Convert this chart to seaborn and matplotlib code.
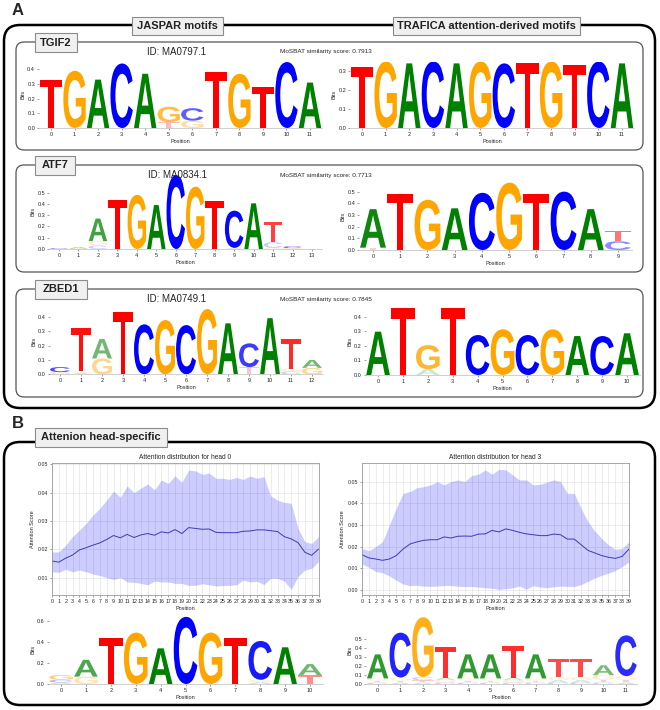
import numpy as np
import pandas as pd
import matplotlib
matplotlib.use("Agg")
import matplotlib.pyplot as plt
import seaborn as sns
from matplotlib.textpath import TextPath
from matplotlib.patches import PathPatch, FancyBboxPatch
from matplotlib.transforms import Affine2D
from matplotlib.font_manager import FontProperties

# ---- motif logos: one dict per position, letter -> bits ----
tgif2_jaspar = [{"T": .33}, {"G": .39}, {"A": .33}, {"C": .44}, {"A": .37},
                {"T": .04, "G": .105}, {"G": .05, "C": .085}, {"T": .38},
                {"G": .37}, {"T": .28}, {"C": .45}, {"A": .31}]
tgif2_trafica = [{"T": .32}, {"G": .35}, {"A": .34}, {"C": .35}, {"A": .34},
                 {"G": .35}, {"C": .34}, {"T": .34}, {"G": .35}, {"T": .33},
                 {"C": .35}, {"A": .34}]
atf7_jaspar = [{"C": .004}, {"G": .006, "A": .008}, {"C": .03, "G": .04, "A": .2},
               {"T": .435}, {"G": .48}, {"A": .39}, {"C": .655}, {"G": .553},
               {"T": .43}, {"A": .01, "C": .33}, {"A": .405},
               {"G": .01, "C": .05, "T": .18}, {"G": .008, "C": .015}, {}]
atf7_trafica = [{"T": .02, "A": .33}, {"T": .48}, {"G": .43}, {"A": .357},
                {"C": .49}, {"G": .577}, {"T": .48}, {"C": .5}, {"A": .35},
                {"C": .075, "T": .09}]
zbed1_jaspar = [{"G": .015, "C": .035}, {"A": .01, "G": .01, "T": .30},
                {"G": .11, "A": .135}, {"T": .43}, {"C": .347}, {"G": .377},
                {"C": .342}, {"G": .453}, {"A": .354}, {"T": .05, "C": .165},
                {"A": .39}, {"C": .02, "G": .02, "T": .205}, {"G": .045, "A": .055}]
zbed1_trafica = [{"A": .297}, {"T": .457}, {"A": .04, "G": .165}, {"T": .457},
                 {"C": .274}, {"G": .313}, {"C": .274}, {"G": .313}, {"A": .267},
                 {"C": .267}, {"A": .286}]
head0_logo = [{"A": .015, "C": .025, "G": .045}, {"G": .07, "A": .16}, {"T": .435},
              {"G": .49}, {"A": .34}, {"C": .64}, {"G": .49}, {"T": .435},
              {"A": .02, "G": .02, "C": .37}, {"A": .35}, {"T": .085, "A": .105}]
head3_logo = [{"C": .02, "T": .02, "G": .025, "A": .265},
              {"A": .02, "T": .02, "G": .035, "C": .495},
              {"A": .02, "T": .025, "C": .035, "G": .66},
              {"C": .02, "G": .025, "A": .03, "T": .335},
              {"C": .02, "T": .02, "G": .025, "A": .265},
              {"C": .02, "T": .02, "G": .025, "A": .265},
              {"C": .02, "G": .025, "A": .03, "T": .345},
              {"C": .02, "T": .02, "G": .025, "A": .265},
              {"C": .02, "A": .025, "G": .035, "T": .195},
              {"C": .02, "A": .025, "G": .035, "T": .195},
              {"C": .02, "T": .03, "G": .05, "A": .11},
              {"A": .02, "T": .03, "G": .04, "C": .45}]

tf_names = ["TGIF2", "ATF7", "ZBED1"]
jaspar_ids = ["ID: MA0797.1", "ID: MA0834.1", "ID: MA0749.1"]
mosbat_scores = [0.7913, 0.7713, 0.7845]

# ---- attention distributions (mean and band) over 40 positions ----
positions = np.arange(40)
head0_mean = [0.0159, 0.0155, 0.0169, 0.0180, 0.0198, 0.0206, 0.0215, 0.0223, 0.0235, 0.0249,
              0.0241, 0.0253, 0.0242, 0.0251, 0.0256, 0.0250, 0.0262, 0.0258, 0.0270, 0.0256,
              0.0277, 0.0274, 0.0271, 0.0272, 0.0260, 0.0259, 0.0259, 0.0259, 0.0264, 0.0265,
              0.0269, 0.0269, 0.0266, 0.0263, 0.0245, 0.0237, 0.0224, 0.0190, 0.0179, 0.0201]
head0_upper = [0.0191, 0.0191, 0.0215, 0.0245, 0.0268, 0.0292, 0.0321, 0.0345, 0.0374, 0.0406,
               0.0384, 0.0424, 0.0400, 0.0416, 0.0431, 0.0410, 0.0445, 0.0433, 0.0460, 0.0437,
               0.0480, 0.0477, 0.0465, 0.0469, 0.0451, 0.0451, 0.0447, 0.0454, 0.0447, 0.0459,
               0.0451, 0.0457, 0.0389, 0.0374, 0.0366, 0.0363, 0.0274, 0.0227, 0.0221, 0.0245]
head0_lower = [0.0121, 0.0119, 0.0130, 0.0121, 0.0127, 0.0121, 0.0113, 0.0108, 0.0100, 0.0094,
               0.0101, 0.0085, 0.0084, 0.0080, 0.0075, 0.0088, 0.0085, 0.0085, 0.0080, 0.0080,
               0.0073, 0.0073, 0.0079, 0.0075, 0.0071, 0.0072, 0.0073, 0.0075, 0.0092, 0.0085,
               0.0087, 0.0076, 0.0098, 0.0098, 0.0088, 0.0059, 0.0104, 0.0127, 0.0133, 0.0157]
head3_mean = [0.0163, 0.0148, 0.0143, 0.0137, 0.0143, 0.0159, 0.0189, 0.0212, 0.0222, 0.0229,
              0.0232, 0.0232, 0.0245, 0.0240, 0.0248, 0.0249, 0.0248, 0.0258, 0.0259, 0.0275,
              0.0268, 0.0282, 0.0275, 0.0266, 0.0259, 0.0255, 0.0251, 0.0251, 0.0258, 0.0255,
              0.0235, 0.0235, 0.0209, 0.0183, 0.0171, 0.0159, 0.0151, 0.0146, 0.0155, 0.0189]
head3_upper = [0.0192, 0.0181, 0.0200, 0.0223, 0.0300, 0.0377, 0.0446, 0.0454, 0.0472, 0.0477,
               0.0485, 0.0500, 0.0485, 0.0500, 0.0508, 0.0500, 0.0528, 0.0534, 0.0554, 0.0534,
               0.0557, 0.0554, 0.0531, 0.0508, 0.0508, 0.0485, 0.0488, 0.0497, 0.0508, 0.0500,
               0.0446, 0.0446, 0.0377, 0.0315, 0.0272, 0.0238, 0.0208, 0.0188, 0.0192, 0.0223]
head3_lower = [0.0120, 0.0105, 0.0085, 0.0080, 0.0065, 0.0045, 0.0028, 0.0020, 0.0022, 0.0018,
               0.0017, 0.0018, 0.0021, 0.0021, 0.0017, 0.0016, 0.0016, 0.0014, 0.0010, 0.0008,
               0.0003, 0.0006, 0.0010, 0.0018, 0.0004, 0.0020, 0.0014, 0.0010, 0.0015, 0.0018,
               0.0017, 0.0016, 0.0025, 0.0040, 0.0055, 0.0068, 0.0078, 0.0090, 0.0108, 0.0130]

sns.set_theme(style="whitegrid")
plt.rcParams["font.family"] = ["Liberation Sans", "DejaVu Sans"]

W, H = 660, 710
fig = plt.figure(figsize=(W / 100, H / 100), dpi=100)
px = Affine2D().scale(1 / W, -1 / H).translate(0, 1) + fig.transFigure

FP = FontProperties(family="Liberation Sans", weight="bold")
COLORS = {"A": "#008000", "C": "#0000ff", "G": "#ffa500", "T": "#ff0000"}


def add_ax(x0, x1, y0, y1):
    return fig.add_axes([x0 / W, 1 - y1 / H, (x1 - x0) / W, (y1 - y0) / H])


def rbox(x0, y0, x1, y1, r, lw, ec, fc="none", z=1):
    fig.patches.append(FancyBboxPatch((x0, y0), x1 - x0, y1 - y0,
                                      boxstyle=f"round,pad=0,rounding_size={r}",
                                      transform=px, lw=lw, ec=ec, fc=fc, zorder=z))


def label_box(x0, y0, x1, y1, text, size):
    fig.patches.append(FancyBboxPatch((x0, y0), x1 - x0, y1 - y0, boxstyle="square,pad=0",
                                      transform=px, lw=0.8, ec="#8c8c8c", fc="#f0f0f0", zorder=3))
    fig.text((x0 + x1) / 2, (y0 + y1) / 2, text, transform=px, ha="center", va="center",
             fontsize=size, fontweight="bold", color="#222222", zorder=4)


def draw_logo(ax, columns, ytop, yticks):
    for i, col in enumerate(columns):
        total = sum(col.values())
        base = 0.0
        for letter, h in sorted(col.items(), key=lambda kv: kv[1]):
            tp = TextPath((0, 0), letter, size=1, prop=FP)
            bb = tp.get_extents()
            tr = (Affine2D().translate(-bb.x0, -bb.y0)
                  .scale(0.95 / bb.width, h / bb.height)
                  .translate(i - 0.475, base))
            ax.add_patch(PathPatch(tr.transform_path(tp), fc=COLORS[letter], ec="none",
                                   alpha=max(0.2, h / total)))
            base += h
    ax.set_xlim(-0.5, len(columns) - 0.5)
    ax.set_ylim(0, ytop)
    ax.set_xticks(range(len(columns)))
    ax.set_yticks(yticks)
    ax.set_yticklabels([f"{t:.1f}" for t in yticks])
    ax.grid(False)
    ax.set_facecolor("none")
    for s in ["top", "right", "left"]:
        ax.spines[s].set_visible(False)
    ax.spines["bottom"].set_color("#c8c8c8")
    ax.spines["bottom"].set_linewidth(0.6)
    ax.tick_params(axis="both", labelsize=4, length=1.5, width=0.4, color="#555555",
                   pad=1.5, left=True, bottom=True)
    ax.set_xlabel("Position", fontsize=4, labelpad=1)
    ax.set_ylabel("Bits", fontsize=4, labelpad=1)


def draw_attention(ax, mean, lower, upper, title, ylim):
    ax.fill_between(positions, lower, upper, color="blue", alpha=0.2, lw=0)
    sns.lineplot(x=positions, y=mean, ax=ax, color="#3c3cb4", lw=0.7)
    ax.set_xlim(0, 39)
    ax.set_ylim(*ylim)
    ax.set_xticks(positions)
    ax.grid(True, color="#dddddd", lw=0.4)
    for s in ax.spines.values():
        s.set_color("#9a9a9a")
        s.set_linewidth(0.6)
    ax.tick_params(axis="both", labelsize=3.8, length=1.5, width=0.4, pad=1.5,
                   left=True, bottom=True, color="#555555")
    ax.set_title(title, fontsize=4.8, pad=3)
    ax.set_xlabel("Position", fontsize=4, labelpad=1)
    ax.set_ylabel("Attention Score", fontsize=4, labelpad=2)


# ---- frames ----
rbox(4, 25, 655, 408, 16, 1.8, "black")
rbox(4, 442, 655, 705, 16, 1.8, "black")
panel_rows = [(42, 150), (165, 272), (289, 397)]
for (y0, y1) in panel_rows:
    rbox(16, y0, 643, y1, 8, 0.9, "#555555")

fig.text(12, 10.5, "A", transform=px, fontsize=12, fontweight="bold", va="center", ha="left")
fig.text(12, 424, "B", transform=px, fontsize=12, fontweight="bold", va="center", ha="left")
label_box(132, 17, 223, 35, "JASPAR motifs", 8)
label_box(393, 17, 580, 35, "TRAFICA attention-derived motifs", 8)
label_box(35, 428, 167, 447, "Attenion head-specific", 8)

label_spans = [(35, 77), (35, 75), (35, 87)]
for (y0, y1), name, (lx0, lx1), jid, score in zip(panel_rows, tf_names, label_spans,
                                                   jaspar_ids, mosbat_scores):
    label_box(lx0, y0 - 9, lx1, y0 + 10, name, 8)
    fig.text(177, y0 + 10, jid, transform=px, ha="center", va="center", fontsize=7)
    fig.text(280, y0 + 10, f"MoSBAT similarity score: {score}", transform=px,
             ha="left", va="center", fontsize=4.6)

# ---- logos ----
draw_logo(add_ax(39.2, 321.8, 61.3, 128), tgif2_jaspar, 0.455, [0, .1, .2, .3, .4])
draw_logo(add_ax(350.2, 633.8, 61.5, 128), tgif2_trafica, 0.35, [0, .1, .2, .3])
draw_logo(add_ax(49.3, 321.7, 174.6, 249), atf7_jaspar, 0.66, [0, .1, .2, .3, .4, .5])
draw_logo(add_ax(359.4, 631.6, 182.3, 250), atf7_trafica, 0.58, [0, .1, .2, .3, .4, .5])
draw_logo(add_ax(49.5, 322.5, 308.8, 374.3), zbed1_jaspar, 0.455, [0, .1, .2, .3, .4])
draw_logo(add_ax(365.6, 639.5, 307.9, 375), zbed1_trafica, 0.46, [0, .1, .2, .3, .4])
draw_logo(add_ax(48.6, 322.5, 615.8, 684), head0_logo, 0.65, [0, .2, .4, .6])
draw_logo(add_ax(366.4, 637.3, 616.8, 684.3), head3_logo, 0.745, [0, .1, .2, .3, .4, .5])

# ---- attention panels ----
draw_attention(add_ax(52, 318.5, 463, 595), head0_mean, head0_lower, head0_upper,
               "Attention distribution for head 0", (0.0039, 0.0505))
draw_attention(add_ax(362, 629, 463, 595), head3_mean, head3_lower, head3_upper,
               "Attention distribution for head 3", (-0.0023, 0.0586))

fig.savefig("out.png", dpi=100)
